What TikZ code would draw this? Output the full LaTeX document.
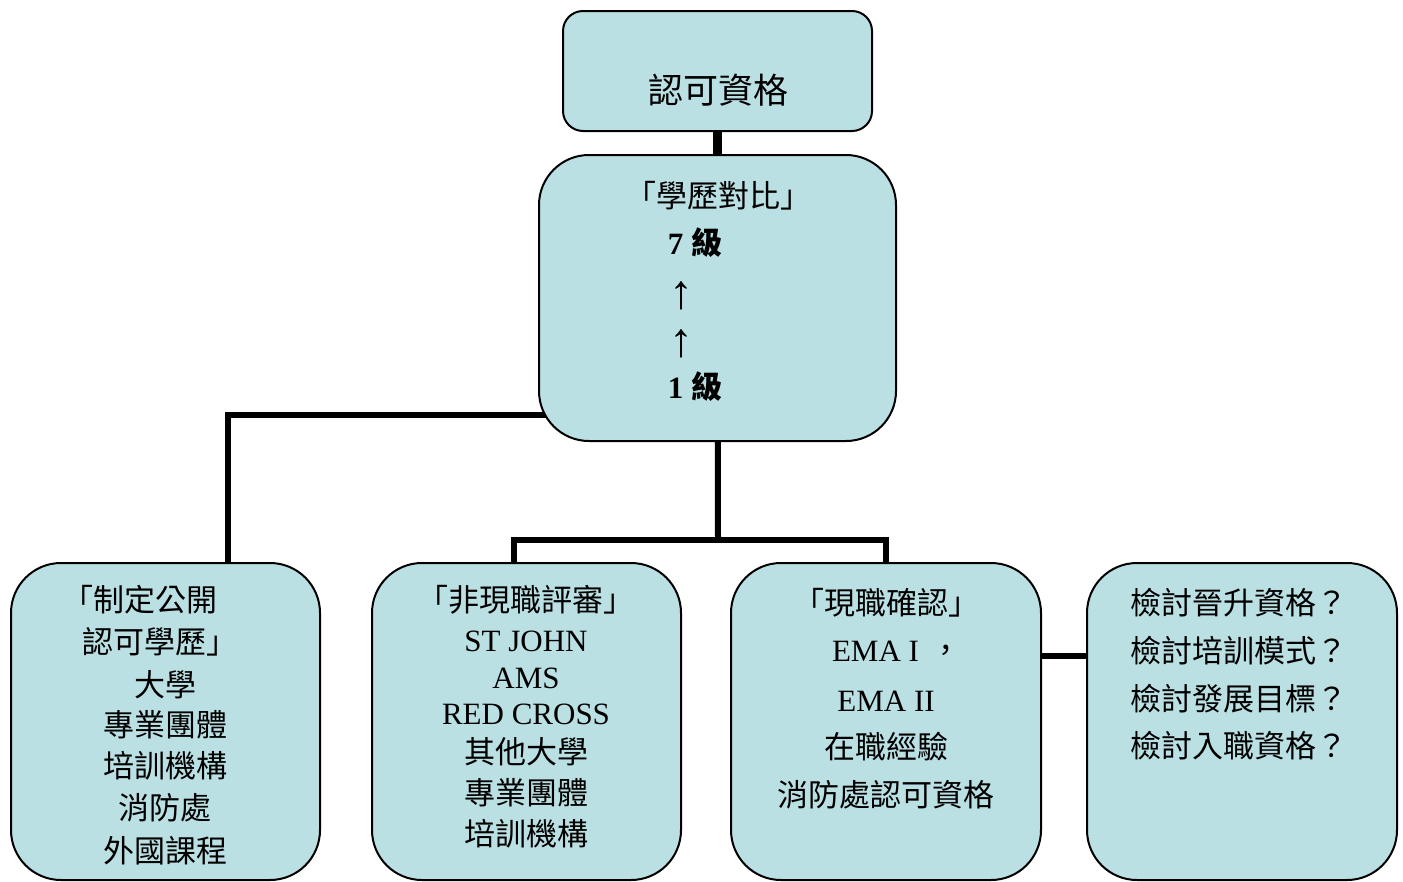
\documentclass[tikz,border=0pt]{standalone}
\usepackage{fontspec}
\setmainfont{Liberation Serif}
\newfontfamily\cjk{Noto Sans CJK TC}
\usetikzlibrary{backgrounds}
\definecolor{boxfill}{HTML}{BBE0E3}
\begin{document}
\begin{tikzpicture}[x=1pt,y=-1pt,
  box/.style={draw=black, line width=2pt, fill=boxfill, rounded corners=50pt,
              minimum width=309pt, minimum height=317pt, inner sep=0pt},
  conn/.style={line width=6pt},
  txt/.style={anchor=base, inner sep=0pt, font=\cjk\fontsize{31}{31}\selectfont},
  txtl/.style={txt, anchor=base west},
  lat/.style={anchor=base, inner sep=0pt, font=\fontsize{31}{31}\selectfont\bfseries},
  latr/.style={anchor=base, inner sep=0pt, font=\fontsize{31}{31}\selectfont},
  uparr/.style={anchor=base, inner sep=0pt, font=\fontsize{48}{48}\selectfont}]
\useasboundingbox (0,0) rectangle (1403,881);

% boxes
\node[box, rounded corners=20pt, minimum height=120pt] (top) at (717.5,71) {};
\node[box, minimum width=357pt, minimum height=286pt] (mid) at (717.5,298) {};
\node[box] (b1) at (165.5,721.5) {};
\node[box] (b2) at (526.5,721.5) {};
\node[box, minimum width=310pt] (b3) at (886,721.5) {};
\node[box, minimum width=310pt] (b4) at (1242,721.5) {};

% connectors
\coordinate (bus) at (718,540);
\coordinate (b2in) at (514,600);
\coordinate (b1in) at (228,600);
\begin{pgfonlayer}{background}
\draw[conn, line width=8.5pt] (top.center) -- (mid.center);
\draw[conn] (mid.center) -- (bus);
\draw[conn] (b2in) |- (bus) -| (b3.center);
\draw[conn] (mid.center |- 0,415) -| (b1in);
\draw[conn] (b3.center |- 0,656) -- (b4.center |- 0,656);
\end{pgfonlayer}

% texts
\node[txt, font=\cjk\fontsize{35}{35}\selectfont] (t0) at (718,103) {認可資格};

\node[txt] (m1) at (718,207) {「學歷對比」};
\node[lat] (m2) at (695,254) {7 {\cjk\bfseries 級}};
\node[uparr] (m3) at (681,308) {↑};
\node[uparr] (m4) at (681,356) {↑};
\node[lat] (m5) at (695,398) {1 {\cjk\bfseries 級}};

\node[txt] (a1) at (140,611) {「制定公開};
\node[txt] (a2) at (160,653) {認可學歷」};
\node[txt] (a3) at (165,696) {大學};
\node[txt] (a4) at (165,736) {專業團體};
\node[txt] (a5) at (165,777) {培訓機構};
\node[txt] (a6) at (165,819) {消防處};
\node[txt] (a7) at (165,862) {外國課程};

\node[txt] (c1) at (526,611) {「非現職評審」};
\node[latr] (c2) at (526,651) {ST JOHN};
\node[latr] (c3) at (526,688) {AMS};
\node[latr] (c4) at (526,724) {RED CROSS};
\node[txt] (c5) at (526,763) {其他大學};
\node[txt] (c6) at (526,804) {專業團體};
\node[txt] (c7) at (526,845) {培訓機構};

\node[txt] (d1) at (886,614) {「現職確認」};
\node[latr] (d2) at (897,661) {EMA I\hspace{12pt}{\cjk ，}};
\node[latr] (d3) at (886,711) {EMA II};
\node[txt] (d4) at (886,758) {在職經驗};
\node[txt] (d5) at (886,806) {消防處認可資格};

\node[txtl] (e1) at (1130,614) {檢討晉升資格？};
\node[txtl] (e2) at (1130,662) {檢討培訓模式？};
\node[txtl] (e3) at (1130,710) {檢討發展目標？};
\node[txtl] (e4) at (1130,757) {檢討入職資格？};
\end{tikzpicture}
\end{document}
